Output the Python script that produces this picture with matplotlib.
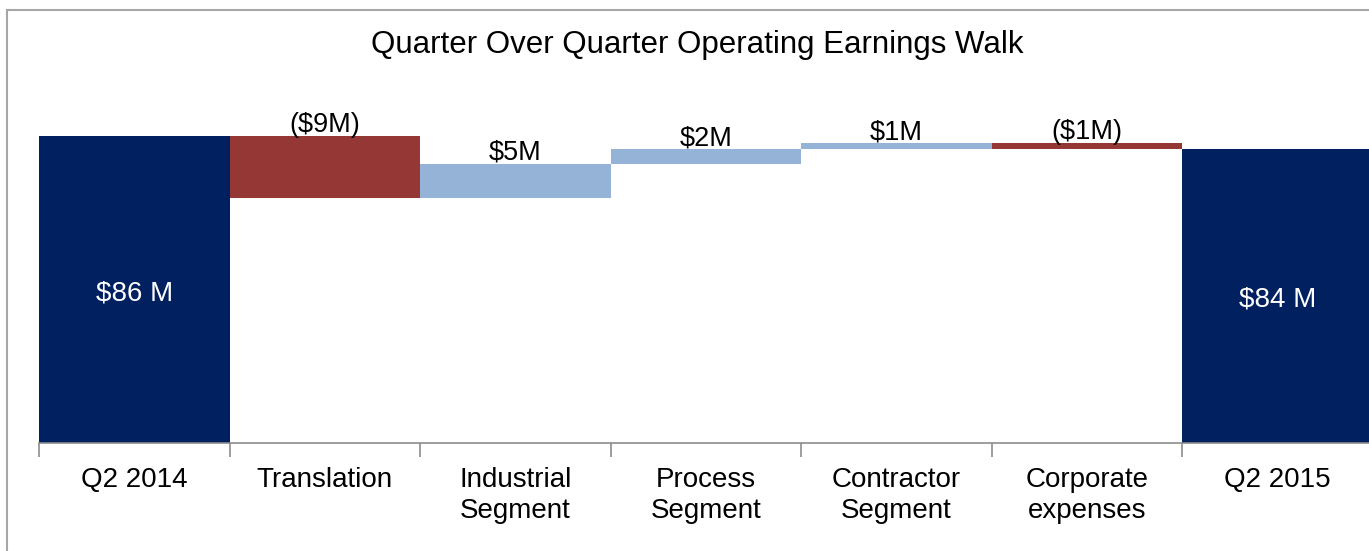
import numpy as np
import matplotlib
matplotlib.use('Agg')
import matplotlib.pyplot as plt
from matplotlib.patches import Rectangle

plt.rcParams['font.family'] = ['Liberation Sans', 'DejaVu Sans']

categorias = ['Q2 2014', 'Translation', 'Industrial\nSegment', 'Process\nSegment',
              'Contractor\nSegment', 'Corporate\nexpenses', 'Q2 2015']
inicio = 86.0
cambios = [-9.5, 5.2, 2.3, 0.9, -0.9]
etiquetas_cambio = ['($9M)', '$5M', '$2M', '$1M', '($1M)']
etiquetas_total = ['$86 M', '$84 M']

azul = '#002060'
rojo = '#953735'
celeste = '#95B3D7'

fig = plt.figure(figsize=(13.69, 5.51), dpi=100)
# marco gris
fig.patches.append(Rectangle((7 / 1369, -0.1), 1.2, 1 - 10 / 551 + 0.1, transform=fig.transFigure,
                             fill=False, edgecolor='#A6A6A6', linewidth=1.5))

ax = fig.add_axes([39 / 1369, 108 / 551, 1334 / 1369, 398 / 551])
base = 38.8
ax.set_ylim(base, 100)
ax.set_xlim(-0.5, 6.5)

fin = inicio + sum(cambios)
x = np.arange(len(categorias))

# totales
ax.bar(0, inicio - base, bottom=base, width=1, color=azul)
ax.bar(6, fin - base, bottom=base, width=1, color=azul)
ax.text(0, (inicio + base) / 2 - 0.6, etiquetas_total[0], color='white', ha='center', va='center', fontsize=20)
ax.text(6, (fin + base) / 2 - 0.5, etiquetas_total[1], color='white', ha='center', va='center', fontsize=20)

nivel = inicio
for i, c in enumerate(cambios):
    nuevo = nivel + c
    color = celeste if c > 0 else rojo
    ax.bar(i + 1, abs(c), bottom=min(nivel, nuevo), width=1, color=color)
    ax.text(i + 1, max(nivel, nuevo) - 0.3, etiquetas_cambio[i], ha='center', va='bottom', fontsize=19.5)
    nivel = nuevo

for s in ['top', 'left', 'right']:
    ax.spines[s].set_visible(False)
ax.spines['bottom'].set_color('#8C8C8C')
ax.spines['bottom'].set_linewidth(1.2)
ax.set_yticks([])
ax.set_xticks(x)
ax.set_xticklabels(categorias, fontsize=20, linespacing=1.25)
ax.tick_params(axis='x', which='major', length=0, pad=17)
ax.set_xticks(np.arange(-0.5, 7, 1), minor=True)
ax.tick_params(axis='x', which='minor', length=10, color='#8C8C8C', width=1.2)

fig.text(697 / 1369, 1 - 45 / 551, 'Quarter Over Quarter Operating Earnings Walk',
         ha='center', va='center', fontsize=22.5)

fig.savefig('out.png', dpi=100)
